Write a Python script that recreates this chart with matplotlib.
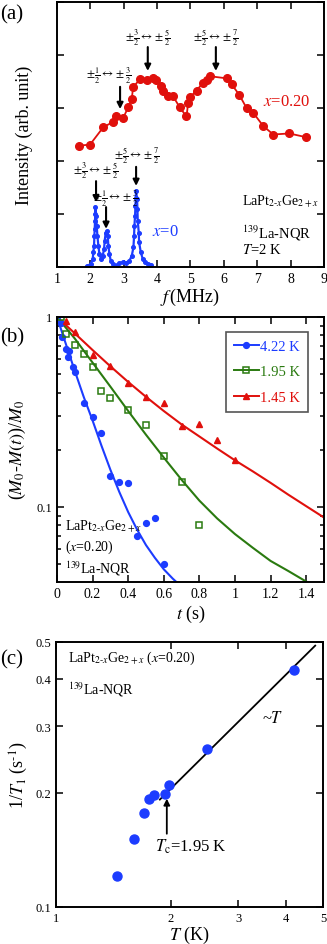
import matplotlib
matplotlib.use("agg")
import matplotlib.pyplot as plt
from matplotlib.lines import Line2D
from matplotlib.ticker import FixedLocator, NullLocator, NullFormatter

plt.rcParams["font.family"] = "serif"
plt.rcParams["font.serif"] = ["Liberation Serif", "DejaVu Serif"]
plt.rcParams["mathtext.fontset"] = "stix"
plt.rcParams["axes.linewidth"] = 1.4

RED = "#e0100c"
BLUE = "#1c3cff"
GREEN = "#2a7a10"

# ---- panel (a): NQR spectra ----
f_x020 = [1.67, 1.99, 2.39, 2.69, 2.77, 2.99, 3.13, 3.24, 3.28, 3.49, 3.69, 3.88, 3.98,
          4.13, 4.18, 4.33, 4.48, 4.68, 4.88, 4.93, 4.98, 5.18, 5.38, 5.48, 5.58, 6.08,
          6.23, 6.46, 6.68, 6.88, 7.18, 7.48, 7.96, 8.46]
i_x020 = [2.29, 2.31, 2.64, 2.74, 2.84, 2.82, 3.01, 3.17, 3.39, 3.55, 3.52, 3.56, 3.52,
          3.41, 3.33, 3.23, 3.22, 3.01, 2.84, 3.09, 3.20, 3.33, 3.48, 3.53, 3.60, 3.56,
          3.45, 3.25, 3.00, 2.91, 2.66, 2.50, 2.52, 2.45]

f_x0 = [1.89, 2.01, 2.07, 2.09, 2.11, 2.12, 2.13, 2.14, 2.145, 2.15, 2.17, 2.19, 2.21,
        2.24, 2.27, 2.32, 2.37, 2.41, 2.43, 2.46, 2.49, 2.52, 2.54, 2.57, 2.61, 2.69,
        2.79, 2.87, 2.97, 3.07, 3.17, 3.24, 3.29, 3.31, 3.32, 3.34, 3.35, 3.36, 3.37,
        3.40, 3.41, 3.42, 3.45, 3.46, 3.51, 3.57, 3.63, 3.73, 3.83]
i_x0 = [0.01, 0.06, 0.15, 0.28, 0.40, 0.59, 0.72, 0.87, 1.00, 1.14, 0.97, 0.78, 0.59,
        0.40, 0.25, 0.15, 0.21, 0.34, 0.50, 0.65, 0.68, 0.59, 0.40, 0.25, 0.12, 0.06,
        0.03, 0.08, 0.09, 0.08, 0.12, 0.21, 0.37, 0.59, 0.78, 0.97, 1.16, 1.31, 1.44,
        1.28, 1.09, 0.87, 0.65, 0.47, 0.28, 0.15, 0.09, 0.06, 0.04]

# transition labels: (text, x arrow, y arrow start, y arrow end, x text, y text)
half = r"$\pm\frac{1}{2}\leftrightarrow\pm\frac{3}{2}$"
threehalf = r"$\pm\frac{3}{2}\leftrightarrow\pm\frac{5}{2}$"
fivehalf = r"$\pm\frac{5}{2}\leftrightarrow\pm\frac{7}{2}$"
arrows_a = [
    (half, 2.89, 3.40, 2.98, 2.56, 3.62),
    (threehalf, 3.72, 4.15, 3.70, 3.72, 4.34),
    (fivehalf, 5.76, 4.15, 3.70, 5.76, 4.34),
    (fivehalf, 3.37, 1.89, 1.53, 3.39, 2.12),
    (threehalf, 2.17, 1.62, 1.22, 2.16, 1.84),
    (half, 2.47, 1.13, 0.72, 2.77, 1.30),
]

# ---- panel (b): recovery curves ----
t_422 = [0, 0.02, 0.03, 0.05, 0.06, 0.07, 0.09, 0.10, 0.15, 0.20, 0.25, 0.30, 0.35,
         0.40, 0.45, 0.50, 0.55, 0.60]
m_422 = [1.0, 0.927, 0.782, 0.679, 0.618, 0.66, 0.543, 0.515, 0.353, 0.299, 0.245,
         0.145, 0.136, 0.134, 0.0707, 0.0826, 0.088, 0.050]
t_195 = [0.02, 0.05, 0.10, 0.15, 0.20, 0.25, 0.30, 0.40, 0.50, 0.60, 0.70, 0.80]
m_195 = [1.0, 0.814, 0.712, 0.639, 0.543, 0.407, 0.375, 0.324, 0.271, 0.185, 0.135, 0.0806]
t_145 = [0.05, 0.10, 0.20, 0.30, 0.40, 0.50, 0.60, 0.70, 0.80, 0.90, 1.00]
m_145 = [0.95, 0.83, 0.633, 0.554, 0.45, 0.381, 0.352, 0.268, 0.273, 0.226, 0.177]

# fitted recovery curves
tfit_422 = [0, 0.05, 0.1, 0.15, 0.2, 0.25, 0.3, 0.35, 0.4, 0.45, 0.5, 0.55, 0.6, 0.65, 0.7]
mfit_422 = [1.0, 0.72, 0.52, 0.38, 0.285, 0.21, 0.157, 0.12, 0.094, 0.076, 0.063,
            0.054, 0.047, 0.042, 0.038]
tfit = [0, 0.1, 0.2, 0.3, 0.4, 0.5, 0.6, 0.7, 0.8, 0.9, 1.0, 1.1, 1.2, 1.3, 1.4, 1.5]
mfit_195 = [1.0, 0.77, 0.575, 0.43, 0.32, 0.24, 0.182, 0.139, 0.108, 0.087, 0.072,
            0.061, 0.052, 0.046, 0.0405, 0.036]
mfit_145 = [1.0, 0.82, 0.67, 0.55, 0.455, 0.38, 0.32, 0.272, 0.235, 0.203, 0.176,
            0.154, 0.134, 0.116, 0.101, 0.088]

# ---- panel (c): 1/T1 vs T ----
temp = [1.447, 1.60, 1.70, 1.75, 1.80, 1.93, 1.98, 2.49, 4.20]
rate = [0.1205, 0.151, 0.177, 0.193, 0.1975, 0.198, 0.21, 0.261, 0.423]
temp_line = [1.87, 4.77]
rate_line = [0.192, 0.489]

fig = plt.figure(figsize=(3.27, 9.45), dpi=100)


def style_ticks(ax, size):
    ax.tick_params(which="both", direction="in", top=True, right=True,
                   labelsize=size, width=1.1)
    ax.tick_params(which="major", length=5)
    ax.tick_params(which="minor", length=3)


# (a)
ax_a = fig.add_axes([0.1743, 0.7164, 0.8165, 0.2804])
ax_a.plot(f_x020, i_x020, "-o", color=RED, ms=5.5, lw=1.3)
ax_a.plot(f_x0, i_x0, "-o", color=BLUE, ms=2.6, lw=1.6)
ax_a.set_xlim(1, 9)
ax_a.set_ylim(0, 5)
ax_a.set_xticks(range(1, 10))
ax_a.set_yticks(range(0, 6))
ax_a.set_yticklabels([])
style_ticks(ax_a, 10)
ax_a.set_xlabel(r"$f\,$(MHz)", fontsize=13, labelpad=1)
ax_a.set_ylabel("Intensity (arb. unit)", fontsize=13, labelpad=14)
for label, xa, y0, y1, xt, yt in arrows_a:
    ax_a.annotate("", xy=(xa, y1), xytext=(xa, y0),
                  arrowprops=dict(arrowstyle="-|>", color="k", lw=1.5,
                                  mutation_scale=9, shrinkA=0, shrinkB=0))
    ax_a.text(xt, yt, label, fontsize=8.5, ha="center", va="center")
ax_a.text(7.17, 3.13, r"$x$=0.20", color=RED, fontsize=12, va="center")
ax_a.text(3.84, 0.68, r"$x$=0", color=BLUE, fontsize=12, va="center")
ax_a.text(6.54, 1.25, r"LaPt$_{2\text{-}x}$Ge$_{2+x}$", fontsize=10, va="center")
ax_a.text(6.54, 0.66, r"$^{139}$La-NQR", fontsize=10.5, va="center")
ax_a.text(6.54, 0.34, r"$T$=2 K", fontsize=10.5, va="center")

# (b)
ax_b = fig.add_axes([0.1743, 0.3831, 0.8165, 0.2804])
ax_b.set_yscale("log")
ax_b.plot(tfit_422, mfit_422, color=BLUE, lw=1.5)
ax_b.plot(tfit, mfit_195, color=GREEN, lw=1.5)
ax_b.plot(tfit, mfit_145, color=RED, lw=1.5)
ax_b.plot(t_422, m_422, "o", color=BLUE, ms=4.2)
ax_b.plot(t_195, m_195, "s", mfc="none", mec=GREEN, mew=1.1, ms=4.2)
ax_b.plot(t_145, m_145, "^", color=RED, ms=5)
ax_b.set_xlim(0, 1.5)
ax_b.set_ylim(0.0403, 1)
ax_b.xaxis.set_major_locator(FixedLocator([0, 0.2, 0.4, 0.6, 0.8, 1.0, 1.2, 1.4]))
ax_b.set_xticklabels(["0", "0.2", "0.4", "0.6", "0.8", "1", "1.2", "1.4"])
ax_b.yaxis.set_major_locator(FixedLocator([0.1, 1]))
ax_b.set_yticklabels(["0.1", "1"])
ax_b.yaxis.set_minor_locator(FixedLocator([0.05, 0.06, 0.07, 0.08, 0.09, 0.2, 0.3,
                                           0.4, 0.5, 0.6, 0.7, 0.8, 0.9]))
ax_b.yaxis.set_minor_formatter(NullFormatter())
style_ticks(ax_b, 10)
ax_b.tick_params(axis="y", labelsize=9)
ax_b.set_xlabel(r"$t$ (s)", fontsize=13, labelpad=2)
ax_b.set_ylabel(r"($M_0$-$M(t)$)/$M_0$", fontsize=13, labelpad=6)
handles = [
    Line2D([], [], color=BLUE, marker="o", ms=4.2, lw=1.4),
    Line2D([], [], color=GREEN, marker="s", mfc="none", mec=GREEN, mew=1.1, ms=4.2, lw=1.4),
    Line2D([], [], color=RED, marker="^", ms=5, lw=1.4),
]
leg = ax_b.legend(handles, ["4.22 K", "1.95 K", "1.45 K"], loc="upper left",
                  bbox_to_anchor=(0.633, 0.945), fontsize=10.5,
                  labelcolor=[BLUE, GREEN, RED], edgecolor="#555555",
                  handlelength=1.7, handletextpad=0.1, labelspacing=0.85,
                  borderpad=0.55, borderaxespad=0, fancybox=False, framealpha=1)
leg.get_frame().set_linewidth(1.2)
ax_b.text(0.03, 0.212, r"LaPt$_{2\text{-}x}$Ge$_{2+x}$", transform=ax_b.transAxes,
          fontsize=10, va="center")
ax_b.text(0.03, 0.135, r"($x$=0.20)", transform=ax_b.transAxes, fontsize=10, va="center")
ax_b.text(0.03, 0.055, r"$^{139}$La-NQR", transform=ax_b.transAxes, fontsize=10, va="center")

# (c)
ax_c = fig.add_axes([0.1713, 0.0392, 0.8165, 0.2804])
ax_c.set_xscale("log")
ax_c.set_yscale("log")
ax_c.plot(temp_line, rate_line, color="k", lw=1.3)
ax_c.plot(temp, rate, "o", color=BLUE, ms=6.5)
ax_c.set_xlim(1, 5)
ax_c.set_ylim(0.1, 0.5)
ax_c.xaxis.set_major_locator(FixedLocator([1, 2, 3, 4, 5]))
ax_c.set_xticklabels(["1", "2", "3", "4", "5"])
ax_c.xaxis.set_minor_locator(NullLocator())
ax_c.yaxis.set_major_locator(FixedLocator([0.1, 0.2, 0.3, 0.4, 0.5]))
ax_c.set_yticklabels(["0.1", "0.2", "0.3", "0.4", "0.5"])
ax_c.yaxis.set_minor_locator(NullLocator())
style_ticks(ax_c, 9)
ax_c.set_xlabel(r"$T$ (K)", fontsize=13, labelpad=0)
ax_c.set_ylabel(r"1/$T_1$ (s$^{\text{-}1}$)", fontsize=13, labelpad=4)
ax_c.annotate("", xy=(1.95, 0.193), xytext=(1.95, 0.156),
              arrowprops=dict(arrowstyle="-|>", color="k", lw=1.3,
                              mutation_scale=9, shrinkA=0, shrinkB=0))
ax_c.text(1.816, 0.145, r"$T_{\rm c}$=1.95 K", fontsize=12, va="center")
ax_c.text(0.77, 0.713, r"~$T$", transform=ax_c.transAxes, fontsize=12, va="center")
ax_c.text(0.045, 0.943, r"LaPt$_{2\text{-}x}$Ge$_{2+x}$ ($x$=0.20)",
          transform=ax_c.transAxes, fontsize=10, va="center")
ax_c.text(0.045, 0.823, r"$^{139}$La-NQR", transform=ax_c.transAxes, fontsize=10,
          va="center")

fig.text(0.0, 0.984, "(a)", fontsize=15, va="center")
fig.text(0.0, 0.643, "(b)", fontsize=15, va="center")
fig.text(0.0, 0.302, "(c)", fontsize=15, va="center")

fig.savefig("out.png", dpi=100)
